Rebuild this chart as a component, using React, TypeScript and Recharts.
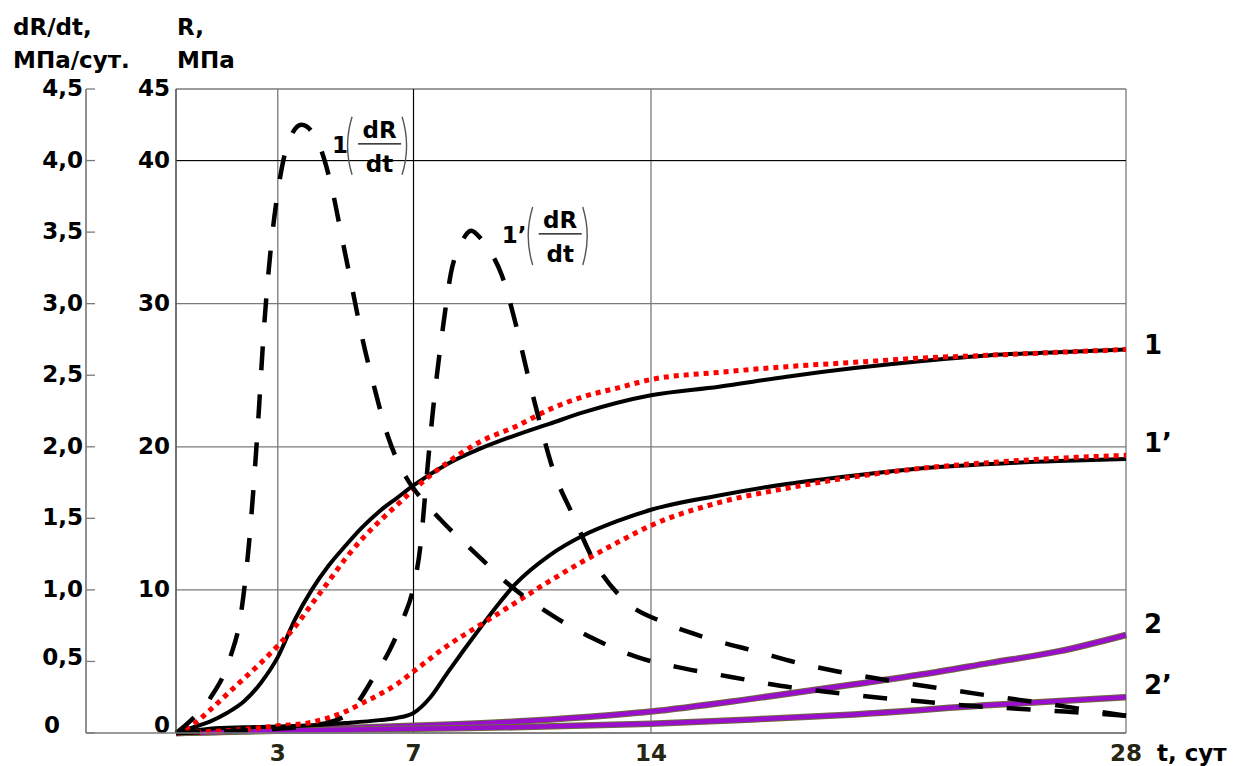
import { LineChart, Line, XAxis, YAxis, CartesianGrid, ReferenceLine, ReferenceDot } from 'recharts';

const FONT = '"DejaVu Sans", Arial, sans-serif';
const GRID = '#7a7a7a';
const R_AXIS_W = 90;
const D_AXIS_W = 86;
// axis ids: the one that sorts first sits next to the plot
const R_ID = 'a';
const D_ID = 'b';

const tTicks = [3, 7, 14, 28];
const rTicks = [0, 10, 20, 30, 40, 45];
const dTicks = [0, 0.5, 1, 1.5, 2, 2.5, 3, 3.5, 4, 4.5];

// curve 1 — R, MPa (solid)
const r1T = [0, 0.5, 1, 1.5, 2, 2.5, 3, 3.5, 4, 4.5, 5, 5.5, 6, 6.5, 7, 8, 9, 10, 11, 12, 14, 16, 18, 20, 22, 24, 26, 28];
const r1 = [0, 0.4, 0.8, 1.4, 2.2, 3.5, 5.3, 7.9, 10, 11.7, 13.1, 14.4, 15.5, 16.4, 17.3, 18.8, 19.9, 20.8, 21.6, 22.4, 23.6, 24.2, 24.9, 25.5, 26.0, 26.4, 26.6, 26.8];

// curve 1 — fit (red dots)
const r1FitT = [0, 0.5, 1, 1.5, 2, 2.5, 3, 3.5, 4, 4.5, 5, 5.5, 6, 6.5, 7, 7.5, 8, 9, 10, 11, 12, 13, 14, 16, 18, 20, 22, 24, 26, 28];
const r1Fit = [0, 0.6, 1.6, 2.7, 3.8, 4.9, 6.1, 7.4, 9.0, 10.6, 12.2, 13.6, 14.8, 15.9, 17.0, 18.0, 18.9, 20.4, 21.4, 22.6, 23.5, 24.1, 24.7, 25.2, 25.6, 25.9, 26.2, 26.4, 26.6, 26.8];

// curve 1' — R, MPa (solid)
const r1pT = [0, 1, 2, 3, 4, 5, 6, 6.5, 7, 7.5, 8, 8.5, 9, 9.5, 10, 11, 12, 13, 14, 16, 18, 20, 22, 24, 26, 28];
const r1p = [0, 0.3, 0.4, 0.45, 0.55, 0.7, 0.9, 1.05, 1.4, 2.5, 4.2, 5.85, 7.45, 9.0, 10.4, 12.4, 13.8, 14.8, 15.6, 16.6, 17.4, 18.0, 18.5, 18.8, 19.0, 19.15];

// curve 1' — fit (red dots)
const r1pFitT = [0, 1, 2, 3, 4, 5, 5.5, 6, 6.5, 7, 8, 9, 10, 11, 12, 13, 14, 16, 18, 20, 22, 24, 26, 28];
const r1pFit = [0, 0.1, 0.25, 0.5, 0.75, 1.5, 2.1, 2.7, 3.4, 4.3, 6.1, 7.6, 9.1, 10.6, 12.0, 13.3, 14.5, 16.1, 17.1, 17.9, 18.5, 18.9, 19.2, 19.4];

// curves 2 and 2'
const r2T = [0, 3, 5, 7, 10, 12, 14, 17, 20, 22, 24, 26, 28];
const r2 = [0, 0.2, 0.35, 0.5, 0.8, 1.1, 1.5, 2.4, 3.4, 4.1, 4.9, 5.7, 6.85];
const r2pT = [0, 3, 7, 10, 14, 17, 20, 24, 28];
const r2p = [0, 0.15, 0.3, 0.4, 0.65, 0.95, 1.3, 1.95, 2.5];

// dR/dt, MPa/day (dashed)
const d1T = [0, 0.4, 1, 1.6, 1.9, 2.15, 2.4, 2.6, 2.8, 3.0, 3.3, 3.7, 4.2, 4.6, 4.9, 5.2, 5.5, 5.85, 6.25, 6.8, 7.3, 7.8, 8.85, 9.9, 11.1, 12.3, 13.6, 15, 16.4, 17.8, 19.1, 20.6, 22, 23.4, 24.8, 26.2, 28];
const d1 = [0, 0.08, 0.24, 0.53, 0.81, 1.32, 2.1, 2.85, 3.4, 3.78, 4.12, 4.25, 4.12, 3.8, 3.45, 3.1, 2.75, 2.41, 2.07, 1.78, 1.62, 1.49, 1.25, 1.02, 0.82, 0.66, 0.53, 0.45, 0.39, 0.33, 0.29, 0.25, 0.22, 0.19, 0.17, 0.15, 0.12];
const d1pT = [0, 3, 4, 5, 5.25, 5.85, 6.3, 6.7, 7.0, 7.2, 7.4, 7.55, 7.7, 7.9, 8.1, 8.4, 8.7, 9.0, 9.3, 9.6, 10, 10.35, 10.7, 11.1, 11.7, 12.3, 13.2, 14.4, 15.7, 17.1, 18.5, 19.5, 21.2, 22.6, 24, 25.5, 26.9, 28];
const d1p = [0, 0.03, 0.05, 0.12, 0.18, 0.4, 0.58, 0.8, 1.02, 1.3, 1.82, 2.2, 2.52, 2.89, 3.21, 3.42, 3.51, 3.45, 3.35, 3.2, 2.87, 2.52, 2.19, 1.85, 1.52, 1.21, 0.93, 0.77, 0.66, 0.57, 0.48, 0.43, 0.36, 0.31, 0.26, 0.21, 0.16, 0.12];

// labels at the right end of the curves
const endLabels = ['1', '1’', '2', '2’'];
const endLabelR = [27.1, 20.3, 7.6, 3.4];

const pts = (t: number[], v: number[]) => t.map((x, i) => ({ t: x, v: v[i] }));

const RTick = (p: any) => {
  const v = p.payload.value;
  return (
    <text x={p.x - 6} y={p.y + (v === 0 ? 0 : 7)} textAnchor="end" fontFamily={FONT} fontWeight="bold" fontSize={23} fill="#000">
      {v}
    </text>
  );
};

const DTick = (p: any) => {
  const v = p.payload.value;
  const label = v === 0 ? '0' : v.toFixed(1).replace('.', ',');
  return (
    <g>
      <line x1={p.x} x2={p.x + 9} y1={p.y} y2={p.y} stroke={GRID} strokeWidth={1.3} />
      {v === 0 && <line x1={p.x} x2={p.x + R_AXIS_W} y1={p.y} y2={p.y} stroke={GRID} strokeWidth={1.3} />}
      <text
        x={v === 0 ? p.x - 34 : p.x - 3}
        y={p.y + (v === 0 ? 0 : v === 0.5 ? 4 : 7)}
        textAnchor={v === 0 ? 'middle' : 'end'}
        fontFamily={FONT}
        fontWeight="bold"
        fontSize={23}
        fill="#000"
      >
        {label}
      </text>
    </g>
  );
};

const XTick = (p: any) => (
  <text x={p.x} y={p.y + 28} textAnchor="middle" fontFamily={FONT} fontWeight="bold" fontSize={23} fill="#262612">
    {p.payload.value}
  </text>
);

const FracLabel = (props: any) => {
  const { viewBox, prefix, pw } = props;
  if (!viewBox) return null;
  const x = viewBox.x + (viewBox.width || 0) / 2;
  const y = viewBox.y + (viewBox.height || 0) / 2;
  const p = x + pw + 2;
  const f = x + pw + 13;
  const fw = 43;
  const q = f + fw + 1;
  return (
    <g fontFamily={FONT} fontWeight="bold" fill="#000">
      <text x={x} y={y + 8} fontSize={23}>{prefix}</text>
      <path d={`M${p + 5},${y - 28} Q${p - 4},${y + 1} ${p + 5},${y + 30}`} stroke="#555" strokeWidth={1.4} fill="none" />
      <text x={f + fw / 2} y={y - 7} fontSize={23} textAnchor="middle">dR</text>
      <line x1={f} x2={f + fw} y1={y - 1} y2={y - 1} stroke="#000" strokeWidth={1.2} />
      <text x={f + fw / 2} y={y + 27} fontSize={23} textAnchor="middle">dt</text>
      <path d={`M${q},${y - 28} Q${q + 9},${y + 1} ${q},${y + 30}`} stroke="#555" strokeWidth={1.4} fill="none" />
    </g>
  );
};

const App = () => {
  return (
    <div style={{ position: 'absolute', left: 0, top: 0, width: 1234, height: 766, background: '#fff' }}>
      <LineChart width={1234} height={766} margin={{ top: 89, right: 108, bottom: 0, left: 0 }}>
        <CartesianGrid yAxisId={R_ID} stroke={GRID} strokeWidth={1.3} />
        <XAxis
          type="number"
          dataKey="t"
          domain={[0, 28]}
          ticks={tTicks}
          height={33}
          tickSize={0}
          tickMargin={0}
          axisLine={{ stroke: GRID, strokeWidth: 1.3 }}
          tick={(p: any) => <XTick {...p} />}
        />
        <YAxis
          yAxisId={R_ID}
          domain={[0, 45]}
          ticks={rTicks}
          width={R_AXIS_W}
          tickSize={0}
          tickMargin={0}
          tickLine={false}
          axisLine={{ stroke: '#555', strokeWidth: 1.3 }}
          tick={(p: any) => <RTick {...p} />}
        />
        <YAxis
          yAxisId={D_ID}
          domain={[0, 4.5]}
          ticks={dTicks}
          width={D_AXIS_W}
          tickSize={0}
          tickMargin={0}
          tickLine={false}
          axisLine={{ stroke: '#555', strokeWidth: 1.3 }}
          tick={(p: any) => <DTick {...p} />}
        />
        <ReferenceLine yAxisId={R_ID} x={7} stroke="#000" strokeWidth={1} />
        <ReferenceLine yAxisId={R_ID} y={40} stroke="#000" strokeWidth={1} />

        <Line data={pts(r2T, r2)} dataKey="v" yAxisId={R_ID} type="monotone" stroke="#6d6a3c" strokeWidth={6.5} dot={false} isAnimationActive={false} />
        <Line data={pts(r2T, r2)} dataKey="v" yAxisId={R_ID} type="monotone" stroke="#9a0fcc" strokeWidth={4.5} dot={false} isAnimationActive={false} />
        <Line data={pts(r2pT, r2p)} dataKey="v" yAxisId={R_ID} type="monotone" stroke="#6d6a3c" strokeWidth={6.5} dot={false} isAnimationActive={false} />
        <Line data={pts(r2pT, r2p)} dataKey="v" yAxisId={R_ID} type="monotone" stroke="#9a0fcc" strokeWidth={4.5} dot={false} isAnimationActive={false} />

        <Line data={pts(r1T, r1)} dataKey="v" yAxisId={R_ID} type="monotone" stroke="#000" strokeWidth={4} dot={false} isAnimationActive={false} />
        <Line data={pts(r1pT, r1p)} dataKey="v" yAxisId={R_ID} type="monotone" stroke="#000" strokeWidth={4} dot={false} isAnimationActive={false} />
        <Line data={pts(r1FitT, r1Fit)} dataKey="v" yAxisId={R_ID} type="monotone" stroke="#ff0000" strokeWidth={5} strokeDasharray="5 5" dot={false} isAnimationActive={false} />
        <Line data={pts(r1pFitT, r1pFit)} dataKey="v" yAxisId={R_ID} type="monotone" stroke="#ff0000" strokeWidth={5} strokeDasharray="5 5" dot={false} isAnimationActive={false} />

        <Line data={pts(d1T, d1)} dataKey="v" yAxisId={D_ID} type="monotone" stroke="#000" strokeWidth={4.5} strokeDasharray="24 24" dot={false} isAnimationActive={false} />
        <Line data={pts(d1pT, d1p)} dataKey="v" yAxisId={D_ID} type="monotone" stroke="#000" strokeWidth={4.5} strokeDasharray="24 24" dot={false} isAnimationActive={false} />

        <ReferenceDot yAxisId={R_ID} x={4.6} y={41.1} r={0} fill="none" stroke="none" label={<FracLabel prefix="1" pw={13} />} />
        <ReferenceDot yAxisId={R_ID} x={9.6} y={34.8} r={0} fill="none" stroke="none" label={<FracLabel prefix="1’" pw={24} />} />

        {endLabels.map((s, i) => (
          <ReferenceDot
            key={s}
            yAxisId={R_ID}
            x={28}
            y={endLabelR[i]}
            r={0}
            fill="none"
            stroke="none"
            label={{ value: s, position: 'right', offset: 18, fontSize: 26, fontWeight: 'bold', fontFamily: FONT, fill: '#000' }}
          />
        ))}
      </LineChart>
      <svg width={1234} height={766} style={{ position: 'absolute', left: 0, top: 0, pointerEvents: 'none' }}>
        <g fontFamily={FONT} fontWeight="bold" fontSize={23} fill="#000">
          <text x={13} y={35}>dR/dt,</text>
          <text x={13} y={68}>МПа/сут.</text>
          <text x={177} y={35}>R,</text>
          <text x={177} y={68}>МПа</text>
          <text x={1157} y={761}>t, сут</text>
        </g>
      </svg>
    </div>
  );
};

export default App;
